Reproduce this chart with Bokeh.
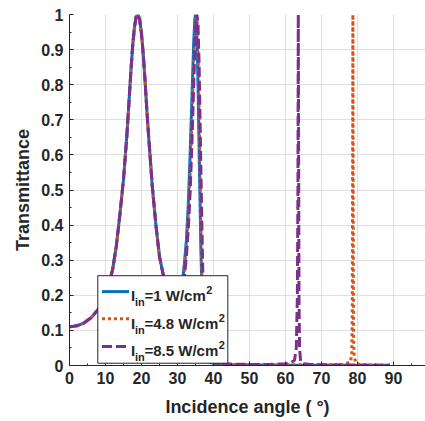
from bokeh.plotting import figure
from bokeh.models import ColumnDataSource, FixedTicker, CustomJSTickFormatter, Range1d
from bokeh.core.properties import value
from bokeh.embed import file_html
from bokeh.resources import INLINE

# ---------------- data ----------------
common_angle = [0, 2, 4, 6, 8, 10, 11, 12, 13, 14, 15, 16, 17, 17.5, 18, 18.5, 19, 19.5,
                20, 20.5, 21, 21.5, 22, 23, 24, 25, 26, 27, 28, 29, 30]
common_T = [0.110, 0.113, 0.121, 0.136, 0.160, 0.200, 0.232, 0.275, 0.340, 0.430, 0.530,
            0.665, 0.830, 0.905, 0.960, 0.993, 1.000, 0.985, 0.945, 0.885, 0.810, 0.725,
            0.650, 0.510, 0.400, 0.310, 0.260, 0.225, 0.200, 0.190, 0.195]

i1_angle = [31, 31.5, 32, 32.5, 33, 33.5, 34, 34.5, 34.8, 35.0, 35.2, 35.5, 35.7, 36.0,
            36.2, 36.5, 36.7, 37.0, 37.3, 37.7, 38.5, 40, 42, 45, 50, 60, 70, 80, 89]
i1_T = [0.215, 0.250, 0.300, 0.360, 0.460, 0.600, 0.760, 0.920, 0.985, 1.000, 0.985, 0.900,
        0.800, 0.620, 0.500, 0.330, 0.250, 0.120, 0.050, 0.020, 0.010, 0.006, 0.004, 0.003,
        0.002, 0.001, 0.001, 0.001, 0.001]

i48_angle = [31, 31.5, 32, 32.5, 33, 33.5, 34, 34.5, 35.0, 35.25, 35.5, 35.8, 36.0, 36.3,
             36.5, 36.8, 37.0, 37.3, 37.7, 38.5, 40, 42, 45, 50, 60, 70, 76, 78, 78.4,
             78.55, 78.65, 78.72, 78.8, 78.9, 79.1, 80, 85, 89]
i48_T = [0.205, 0.235, 0.280, 0.345, 0.430, 0.545, 0.700, 0.870, 0.980, 1.000, 0.975, 0.850,
         0.720, 0.520, 0.400, 0.240, 0.160, 0.080, 0.030, 0.012, 0.007, 0.004, 0.003, 0.002,
         0.002, 0.002, 0.003, 0.010, 0.030, 0.150, 0.600, 1.000, 0.500, 0.080, 0.020, 0.004,
         0.001, 0.001]

i85_angle = [31, 31.5, 32, 32.5, 33, 33.5, 34, 34.5, 35.0, 35.4, 35.7, 36.0, 36.3, 36.6,
             36.9, 37.2, 37.5, 37.9, 38.6, 40, 42, 45, 50, 55, 58, 60, 61.5, 62.5, 63.0,
             63.3, 63.45, 63.55, 63.65, 63.75, 63.9, 64.2, 65, 67, 70, 80, 89]
i85_T = [0.195, 0.220, 0.260, 0.315, 0.390, 0.490, 0.630, 0.800, 0.950, 1.000, 0.970, 0.860,
         0.680, 0.500, 0.330, 0.180, 0.090, 0.035, 0.015, 0.008, 0.005, 0.004, 0.003, 0.003,
         0.004, 0.005, 0.008, 0.015, 0.050, 0.200, 0.500, 1.000, 0.600, 0.200, 0.050, 0.012,
         0.005, 0.003, 0.002, 0.001, 0.001]

series_labels = ["=1 W/cm", "=4.8 W/cm", "=8.5 W/cm"]
y_ticks = [0, 0.1, 0.2, 0.3, 0.4, 0.5, 0.6, 0.7, 0.8, 0.9, 1]
x_ticks = [0, 10, 20, 30, 40, 50, 60, 70, 80, 90]

# ---------------- styles / layout ----------------
BLUE, ORANGE, PURPLE = "#0072BD", "#D95319", "#7E2F8E"
DARK = "#262626"
FONT = "Liberation Sans"
ML, MT, MB = 69, 14, 52
FW, FH = 356, 353
PX_PER_DEG = 3.6
X_END = FW / PX_PER_DEG
PAGE_LEFT, PAGE_TOP = ML, MT
PAGE_BOTTOM = PAGE_TOP + FH


def px2x(px):
    return (px - PAGE_LEFT) / PX_PER_DEG


def px2y(py):
    return (PAGE_BOTTOM - py) / FH


p = figure(width=ML + FW, height=MT + FH + MB, output_backend="svg", toolbar_location=None,
           x_range=Range1d(0, X_END), y_range=Range1d(0, 1),
           min_border_left=ML, min_border_right=0, min_border_top=MT, min_border_bottom=MB)
p.outline_line_color = None
p.background_fill_color = "white"
p.border_fill_color = "white"

for ax, ticks, minor in ((p.xaxis[0], x_ticks, [5, 15, 25, 35, 45, 55, 65, 75, 85, 95]),
                         (p.yaxis[0], y_ticks, [0.05, 0.15, 0.25, 0.35, 0.45, 0.55, 0.65, 0.75, 0.85, 0.95])):
    ax.ticker = FixedTicker(ticks=ticks, minor_ticks=minor)
    ax.formatter = CustomJSTickFormatter(code="return String(Math.round(tick*10)/10)")
    ax.axis_line_color = DARK
    ax.major_tick_line_color = DARK
    ax.minor_tick_line_color = DARK
    ax.major_tick_in = 4
    ax.major_tick_out = 0
    ax.minor_tick_in = 2
    ax.minor_tick_out = 0
    ax.major_label_text_font = FONT
    ax.major_label_text_font_style = "bold"
    ax.major_label_text_font_size = "16px"
    ax.major_label_text_color = DARK
    ax.axis_label_text_font = FONT
    ax.axis_label_text_font_style = "bold"
    ax.axis_label_text_font_size = "18px"
    ax.axis_label_text_color = DARK

p.xaxis.axis_label = "Incidence angle ( °)"
p.yaxis.axis_label = "Transmittance"
p.xaxis.major_label_standoff = 6
p.yaxis.major_label_standoff = 6
p.xaxis.axis_label_standoff = 10
p.yaxis.axis_label_standoff = 5

p.xgrid.ticker = FixedTicker(ticks=x_ticks)
p.ygrid.ticker = FixedTicker(ticks=y_ticks)
p.grid.grid_line_color = "#DFDFDF"
p.grid.grid_line_width = 1

src1 = ColumnDataSource(dict(x=common_angle + i1_angle, y=common_T + i1_T))
src2 = ColumnDataSource(dict(x=common_angle + i48_angle, y=common_T + i48_T))
src3 = ColumnDataSource(dict(x=common_angle + i85_angle, y=common_T + i85_T))

p.line("x", "y", source=src1, line_color=BLUE, line_width=3)
p.line("x", "y", source=src2, line_color=ORANGE, line_width=3, line_dash="3 3")
p.line("x", "y", source=src3, line_color=PURPLE, line_width=3, line_dash="10 4")

# ---------------- manual legend (sub/superscripts) ----------------
lx0, lx1, ly0, ly1 = 97.3, 227.3, 276.7, 364.7
p.quad(left=[px2x(lx0)], right=[px2x(lx1)], top=[px2y(ly0)], bottom=[px2y(ly1)],
       fill_color="white", line_color=DARK, line_width=1, level="overlay")

colors = [BLUE, ORANGE, PURPLE]
dashes = ["solid", "3 3", "10 4"]
row_line_y = [292.7, 320.0, 348.0]
row_base_y = [296.7, 324.3, 352.3]
text_widths = [61.3, 73.8, 73.8]
for col, dash, ly, by, lab, tw in zip(colors, dashes, row_line_y, row_base_y, series_labels, text_widths):
    p.line(x=[px2x(101.5), px2x(128.5)], y=[px2y(ly), px2y(ly)], line_color=col,
           line_width=3, line_dash=dash, level="overlay")
    p.text(x=[px2x(130.5)], y=[px2y(by)], text=["I"], text_font=value(FONT),
           text_font_style="bold", text_font_size="15px", text_color=DARK,
           text_baseline="alphabetic", level="overlay")
    p.text(x=[px2x(134.5)], y=[px2y(by + 6.5)], text=["in"], text_font=value(FONT),
           text_font_style="bold", text_font_size="11px", text_color=DARK,
           text_baseline="alphabetic", level="overlay")
    p.text(x=[px2x(144.0)], y=[px2y(by)], text=[lab], text_font=value(FONT),
           text_font_style="bold", text_font_size="15px", text_color=DARK,
           text_baseline="alphabetic", level="overlay")
    p.text(x=[px2x(144.0 + tw + 0.5)], y=[px2y(by - 5.5)], text=["2"], text_font=value(FONT),
           text_font_style="bold", text_font_size="11px", text_color=DARK,
           text_baseline="alphabetic", level="overlay")

open("out.html", "w").write(file_html(p, INLINE))
